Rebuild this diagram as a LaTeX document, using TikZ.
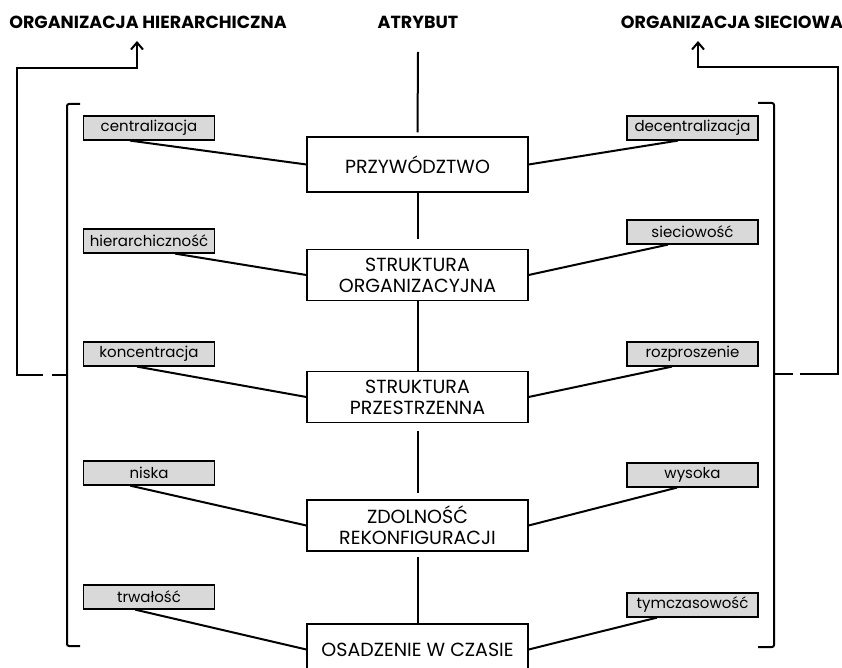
\documentclass[tikz,border=0pt]{standalone}
\usepackage{fontspec}
\setmainfont{Poppins}
\usetikzlibrary{positioning,arrows.meta}

\tikzset{
  attr/.style={draw, line width=1.2pt, minimum width=221pt, minimum height=51pt,
    inner sep=0pt, align=center, font=\fontsize{19}{21}\selectfont},
  val/.style={draw, fill=gray!30, line width=1.2pt, minimum width=131pt,
    minimum height=24pt, inner sep=0pt, font=\fontsize{15}{17}\selectfont},
  head/.style={font=\bfseries\fontsize{17.5}{20}\selectfont},
  link/.style={line width=2pt},
  up/.style={link, -{Straight Barb[length=7pt,width=12pt,line width=2pt]}}
}

\begin{document}
\begin{tikzpicture}[x=1pt,y=-1pt]
    \useasboundingbox (0,0) rectangle (842,668);

    \node[head] (hier) at (148,22) {ORGANIZACJA HIERARCHICZNA};
    \node[head] (atr) at (418,22) {ATRYBUT};
    \node[head] (siec) at (732,22) {ORGANIZACJA SIECIOWA};

    % attributes
    \node[attr, minimum height=55pt] (prz) at (417.5,164.5) {PRZYWÓDZTWO};
    \node[attr] (sorg) at (417.5,275) {STRUKTURA\\ORGANIZACYJNA};
    \node[attr] (sprz) at (417.5,397) {STRUKTURA\\PRZESTRZENNA};
    \node[attr] (zdol) at (417.5,525.5) {ZDOLNOŚĆ\\REKONFIGURACJI};
    \node[attr] (osad) at (417.5,649.5) {OSADZENIE W CZASIE};

    % values
    \node[val] (cen) at (149,128) {centralizacja};
    \node[val] (hie) at (149,241) {hierarchiczność};
    \node[val] (kon) at (149,354) {koncentracja};
    \node[val] (nis) at (149,473) {niska};
    \node[val] (trw) at (149,597) {trwałość};
    \node[val] (dec) at (692.5,128) {decentralizacja};
    \node[val] (sie) at (692.5,232) {sieciowość};
    \node[val] (roz) at (692.5,354) {rozproszenie};
    \node[val] (wys) at (692.5,475) {wysoka};
    \node[val] (tym) at (692.5,605) {tymczasowość};

    \coordinate (top) at (418,52);
    \draw[link] (top) -- ([yshift=4pt]prz.north);
    \draw[link] (prz.south) -- ([yshift=10pt]sorg.north);
    \draw[link] (sorg.south) -- (sprz.north);
    \draw[link] ([yshift=-8pt]sprz.south) -- ([yshift=6pt]zdol.north);
    \draw[link] ([yshift=-5pt]zdol.south) -- (osad.north);

    \foreach \v/\a/\dx in {cen/prz/-19, hie/sorg/26, kon/sprz/-12, nis/zdol/-19, trw/osad/-14}
        \draw[link] ([xshift=\dx pt]\v.south) -- (\a.west);
    \foreach \v/\a/\dx in {dec/prz/-14.5, sie/sorg/-24.5, roz/sprz/-20.5, wys/zdol/-15.5, tym/osad/-35.5}
        \draw[link] ([xshift=\dx pt]\v.south) -- (\a.east);

    % brackets
    \draw[link, rounded corners=2pt] (80,104) -- (67,104) -- (67,646) -- (80,646);
    \draw[link, rounded corners=2pt] (758,103) -- (774,103) -- (774,647) -- (758,647);
    \coordinate (ltip) at (67,375);
    \coordinate (rtip) at (774,374);
    \draw[link] (ltip) -- (52,375);
    \draw[link] (rtip) -- (793,374);
    \draw[up] (43,375) -- (17,375) -- (17,68) -- (137,68) -- (137,41);
    \draw[up] (800,374) -- (838,374) -- (838,67) -- (698,67) -- (698,41);
\end{tikzpicture}
\end{document}
